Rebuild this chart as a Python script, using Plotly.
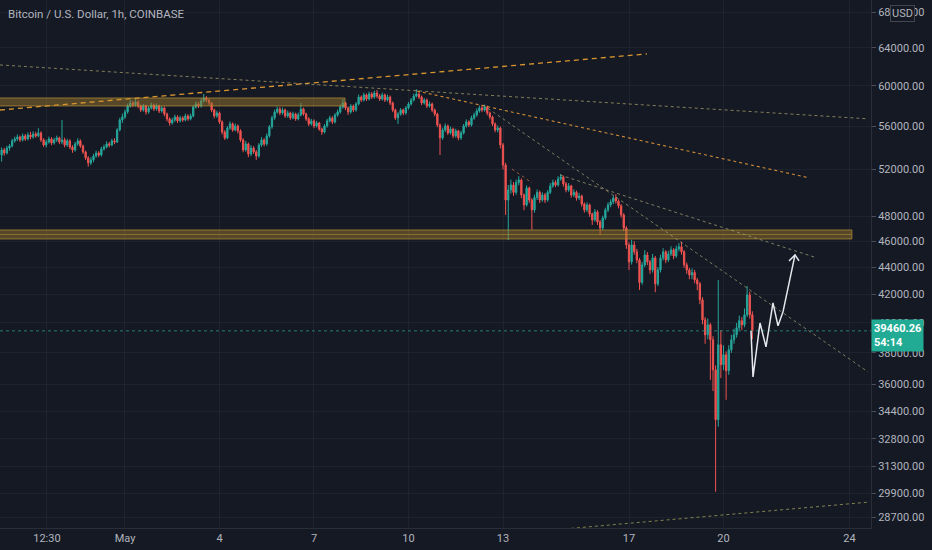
import numpy as np
import pandas as pd
import plotly.graph_objects as go

# BTC/USD Coinbase, 2h candles (open = previous close)
debut = "2021-04-27 02:00"
open_first = 53300

closes = [
    53760, 53480, 53940, 54130, 54600, 54780, 54970, 54690, 55070, 54780, 55160,
    54970, 55250, 55070, 55350, 54690, 54220, 54500, 54780, 54410, 54690, 54880, 54500,
    54690, 54220, 54600, 54030, 53760, 54320, 54600, 54130, 53580, 53030, 52580, 52850,
    53210, 53480, 53300, 53850, 54030, 54320, 54220, 54600, 54500, 55630, 56590, 56880,
    57370, 57960, 58260, 58060, 58360, 57960, 57560, 57960, 57370, 57760, 58060, 57660,
    57960, 57460, 57760, 57170, 56690, 56300, 56590, 56880, 56500, 56790, 56590, 56980,
    56690, 56980, 57860, 58160, 57960, 58450, 58750, 58550, 58260, 57560, 56980, 57270,
    56400, 55440, 54880, 55820, 56210, 55630, 56010, 55540, 54690, 53760, 54320, 53390,
    53940, 53580, 53210, 54220, 54690, 54320, 55070, 55920, 56790, 57370, 57660, 57270,
    57560, 56980, 57270, 56790, 57170, 56690, 57070, 57660, 57170, 56690, 56210, 56500,
    56010, 56300, 55720, 55440, 56010, 56500, 56790, 56400, 57070, 57370, 57860, 58260,
    57760, 57370, 57960, 57560, 58160, 58850, 58550, 59060, 58650, 59160, 58850, 59260,
    58950, 58650, 59060, 58550, 58850, 58260, 57560, 56790, 57170, 57560, 57270, 57760,
    58160, 58550, 58950, 59160, 58850, 58260, 58550, 57960, 58160, 57560, 57170, 56110,
    54880, 55630, 56010, 55350, 55720, 55070, 55540, 54880, 55350, 56010, 56400, 56110,
    56790, 57070, 57460, 57760, 57560, 57860, 57270, 56880, 56210, 55630, 55820, 54220,
    52400, 49350, 50210, 50640, 50000, 50850, 51070, 49780, 48940, 50380, 49350, 48520,
    49560, 50000, 49350, 49780, 49350, 50000, 50550, 50850, 50640, 51160, 51330, 50730,
    50210, 50550, 49780, 50000, 49520, 49690, 49020, 48520, 48940, 48190, 47700, 48360,
    47540, 47050, 47860, 48520, 48940, 49190, 49520, 49270, 48860, 48110, 47050, 45700,
    44400, 45700, 45170, 44550, 42870, 44170, 44930, 44400, 43790, 44700, 42760, 43790,
    44700, 45170, 44550, 45010, 45320, 44850, 45400, 45560, 45170, 44170, 43790, 43420,
    43600, 43050, 42760, 41610, 40210, 39190, 39870, 38860, 36920, 33900, 38530, 37240,
    37880, 36860, 38200, 38860, 39190, 39670, 40150, 39870, 40560, 41960, 40560, 39460.26,
]

highs = [
    54000, 53950, 54150, 54300, 54800, 55000, 55200, 55100, 55300, 55250, 55400,
    55450, 55500, 55450, 55800, 55500, 54850, 54700, 55000, 54950, 54900, 55100, 55000,
    56590, 54900, 54800, 54750, 54200, 54500, 54850, 54750, 54250, 53700, 53200, 53100,
    53400, 53700, 53650, 54050, 54250, 54550, 54500, 54800, 54850, 55800, 56800, 57200,
    57600, 58200, 58550, 58450, 58650, 58500, 58100, 58150, 58100, 57950, 58300, 58200,
    58200, 58100, 57950, 57900, 57300, 56850, 56800, 57100, 57050, 57000, 56950, 57200,
    57150, 57200, 58050, 58400, 58350, 58700, 59160, 58950, 58700, 58350, 57700, 57500,
    57400, 56550, 55600, 56000, 56450, 56350, 56250, 56150, 55700, 54850, 54600, 54450,
    54200, 54100, 53750, 54400, 54950, 54850, 55300, 56100, 57000, 57600, 57900, 57850,
    57800, 57700, 57500, 57400, 57400, 57300, 57300, 58260, 57800, 57300, 56850, 56700,
    56650, 56500, 56400, 55850, 56200, 56700, 57000, 56950, 57250, 57600, 58100, 58650,
    58400, 57900, 58150, 58100, 58350, 59100, 59000, 59300, 59200, 59400, 59350, 59500,
    59570, 59150, 59300, 59200, 59100, 59000, 58400, 57700, 57350, 57750, 57700, 57950,
    58350, 58750, 59200, 59650, 59350, 59000, 58750, 58700, 58400, 58300, 57700, 57300,
    56250, 55850, 56250, 56150, 55950, 55850, 55750, 55650, 55550, 56200, 56650, 56550,
    57000, 57300, 57700, 58000, 58060, 58100, 58000, 57400, 57000, 56350, 56050, 55950,
    54400, 52600, 50640, 51100, 50900, 51100, 51400, 51200, 49900, 50600, 50500, 49500,
    49800, 50250, 50150, 50000, 49950, 50200, 50800, 51100, 51050, 51400, 51600, 51450,
    50900, 50800, 50650, 50250, 50150, 49950, 49800, 49150, 49150, 49050, 48300, 48600,
    48500, 47700, 48050, 48700, 49150, 49400, 49750, 49850, 49400, 49000, 48250, 47200,
    45900, 46100, 46000, 45400, 44700, 44400, 45300, 45150, 44550, 45000, 44850, 44000,
    44950, 45450, 45300, 45250, 45600, 45450, 45650, 45850, 45950, 45300, 44350, 43950,
    43900, 43800, 43200, 42900, 41800, 40400, 40300, 40000, 39100, 37200, 43050, 39500,
    38500, 38100, 38500, 39200, 39600, 40000, 40500, 40400, 41000, 42600, 42200, 40800,
]

lows = [
    52700, 53250, 53350, 53700, 54000, 54450, 54600, 54500, 54550, 54600, 54650,
    54750, 54800, 54900, 54950, 54500, 54050, 54000, 54350, 54200, 54250, 54500, 54300,
    54300, 54000, 54050, 53850, 53500, 53600, 54150, 53950, 53400, 52850, 52250, 52400,
    52650, 53050, 53100, 53150, 53700, 53900, 54000, 54100, 54300, 54400, 55500, 56300,
    56700, 57200, 57800, 57850, 57900, 57750, 57350, 57400, 57100, 57200, 57600, 57450,
    57500, 57250, 57300, 56950, 56450, 56050, 56150, 56400, 56300, 56350, 56400, 56450,
    56500, 56550, 56850, 57700, 57750, 57800, 58300, 58350, 58050, 57350, 56750, 56800,
    56200, 55200, 54690, 54750, 55650, 55450, 55500, 55300, 54500, 53550, 53600, 53100,
    53200, 53400, 52850, 53050, 54050, 54100, 54150, 54900, 55750, 56600, 57200, 57050,
    57100, 56800, 56800, 56600, 56650, 56500, 56550, 56950, 57000, 56500, 56000, 56050,
    55800, 55850, 55550, 55160, 55300, 55850, 56350, 56200, 56250, 56900, 57200, 57700,
    57550, 57070, 57200, 57350, 57400, 58000, 58350, 58400, 58450, 58500, 58650, 58700,
    58750, 58450, 58500, 58350, 58400, 58050, 57350, 56590, 56210, 57000, 57050, 57100,
    57600, 58000, 58400, 58800, 58650, 58050, 58100, 57750, 57800, 57350, 56950, 55900,
    53300, 54700, 55450, 55150, 55200, 54850, 54900, 54650, 54700, 55200, 55850, 55900,
    55950, 56600, 56900, 57300, 57350, 57400, 57050, 56650, 56000, 55400, 55400, 53900,
    52000, 48110, 46090, 49900, 49700, 49800, 50600, 49500, 48500, 48800, 49100, 46900,
    48300, 49350, 49100, 49200, 49100, 49200, 49850, 50400, 50450, 50500, 51000, 50500,
    50000, 50050, 49550, 49600, 49300, 49350, 48800, 48300, 48350, 47950, 47300, 47550,
    47300, 46490, 46900, 47700, 48350, 48750, 49000, 49050, 48650, 47900, 46800, 45400,
    43790, 44200, 44950, 44300, 42320, 42700, 44000, 44150, 43500, 43600, 42150, 42600,
    43600, 44500, 44300, 44400, 44850, 44600, 44700, 45200, 44950, 43950, 43500, 43100,
    43100, 42800, 42300, 41300, 39900, 38600, 38900, 36290, 35600, 29970, 33500, 36400,
    36900, 35070, 36600, 38000, 38600, 39000, 39500, 39500, 39700, 40400, 40300, 38900,
]

# axes
prix_ticks = [28700, 29900, 31300, 32800, 34400, 36000, 38000, 40000, 42000,
              44000, 46000, 48000, 52000, 56000, 60000, 64000, 68000]
date_ticks = ["2021-04-28 12:30", "2021-05-01", "2021-05-04", "2021-05-07", "2021-05-10",
              "2021-05-13", "2021-05-17", "2021-05-20", "2021-05-24"]
date_labels = ["12:30", "May", "4", "7", "10", "13", "17", "20", "24"]

# drawings : (date, price)
ligne_orange = [("2021-04-27 00:46", 57560), ("2021-05-17 13:42", 63350)]
ligne_longue = [("2021-04-27 00:46", 62170), ("2021-05-24 14:05", 56700)]
ligne_sommet = [("2021-05-10 06:29", 59460), ("2021-05-22 15:36", 51300)]
ligne_raide = [("2021-05-12 08:46", 58060), ("2021-05-24 14:05", 36790)]
ligne_milieu = [("2021-05-14 19:26", 51510), ("2021-05-22 23:14", 44700)]
ligne_courte = [("2021-05-13 06:51", 52040), ("2021-05-13 22:06", 50810)]
ligne_bas = [("2021-05-14 18:40", 28100), ("2021-05-24 15:37", 29450)]
projection = [("2021-05-20 20:57", 39460), ("2021-05-20 22:29", 36470),
              ("2021-05-21 03:49", 39990), ("2021-05-21 08:23", 38390),
              ("2021-05-21 13:42", 41390), ("2021-05-21 17:31", 39800),
              ("2021-05-21 21:20", 40760), ("2021-05-22 06:29", 44930)]
fleche = [("2021-05-22 01:54", 44470), ("2021-05-22 06:29", 44930), ("2021-05-22 09:32", 44470)]
zone_haute = ("2021-04-26 20:00", "2021-05-07 23:37", 57960, 58760)
zone_basse = ("2021-04-26 20:00", "2021-05-24 01:50", 46170, 46890)

x_range = ["2021-04-27 00:46", "2021-05-24 16:23"]
y_range = [28170, 69470]

temps = pd.date_range(debut, periods=len(closes), freq="2h")
opens = [open_first] + closes[:-1]
dernier = closes[-1]

fond = "#151924"
texte = "#b2b5be"
grille = "#1f2330"

fig = go.Figure()

# zones horizontales
for x0, x1, bas, haut in [zone_haute, zone_basse]:
    fig.add_trace(go.Scatter(x=[x0, x1, x1, x0, x0], y=[bas, bas, haut, haut, bas],
                             mode="lines", fill="toself", fillcolor="rgba(150,118,42,0.5)",
                             line=dict(color="rgba(205,160,58,0.6)", width=1),
                             hoverinfo="skip", showlegend=False))
fig.add_trace(go.Scatter(x=[zone_basse[0], zone_basse[1]],
                         y=[(zone_basse[2] * zone_basse[3]) ** 0.5] * 2, mode="lines",
                         line=dict(color="rgba(205,160,58,0.45)", width=1),
                         hoverinfo="skip", showlegend=False))

# ligne du dernier prix
fig.add_trace(go.Scatter(x=x_range, y=[dernier, dernier], mode="lines",
                         line=dict(color="rgba(38,166,154,0.7)", width=1, dash="dot"),
                         hoverinfo="skip", showlegend=False))

fig.add_trace(go.Candlestick(
    x=temps, open=opens, high=highs, low=lows, close=closes,
    increasing=dict(line=dict(color="#26a69a", width=1), fillcolor="#26a69a"),
    decreasing=dict(line=dict(color="#ef5350", width=1), fillcolor="#ef5350"),
    whiskerwidth=0, showlegend=False, name="BTCUSD"))


def trait(points, couleur, largeur=1, style="dot"):
    fig.add_trace(go.Scatter(x=[p[0] for p in points], y=[p[1] for p in points],
                             mode="lines", line=dict(color=couleur, width=largeur, dash=style),
                             hoverinfo="skip", showlegend=False))


trait(ligne_orange, "#d9962f", 1.3, "5px,4px")
trait(ligne_longue, "rgba(180,168,110,0.7)")
trait(ligne_sommet, "#cf8c38", 1.1)
trait(ligne_raide, "rgba(170,165,120,0.7)")
trait(ligne_milieu, "rgba(170,165,120,0.7)")
trait(ligne_courte, "rgba(200,110,70,0.75)")
trait(ligne_bas, "rgba(165,165,90,0.75)")
trait(projection, "#e6e8ee", 1.5, "solid")
trait(fleche, "#e6e8ee", 1.5, "solid")

fig.update_layout(
    width=932, height=550,
    margin=dict(l=0, r=61, t=0, b=22),
    paper_bgcolor=fond, plot_bgcolor=fond,
    font=dict(family="Roboto, sans-serif", size=11, color=texte),
    xaxis=dict(type="date", range=x_range, rangeslider=dict(visible=False),
               tickmode="array", tickvals=date_ticks, ticktext=date_labels,
               showgrid=True, gridcolor=grille, gridwidth=1, zeroline=False,
               showline=True, linecolor="#2a2e39", ticks="", tickfont=dict(size=11, color=texte)),
    yaxis=dict(type="log", side="right", range=[np.log10(y_range[0]), np.log10(y_range[1])],
               tickmode="array", tickvals=prix_ticks, ticktext=["%.2f" % v for v in prix_ticks],
               showgrid=True, gridcolor=grille, gridwidth=1, zeroline=False,
               showline=True, linecolor="#2a2e39", ticks="outside", ticklen=4,
               tickcolor="#4a4e5a", tickfont=dict(size=11, color=texte)),
    hovermode=False,
    annotations=[
        dict(text="Bitcoin / U.S. Dollar, 1h, COINBASE", xref="paper", yref="paper",
             x=0, y=1, xanchor="left", yanchor="top", xshift=6, yshift=-5,
             showarrow=False, font=dict(size=11.5, color=texte)),
        dict(text="USD", xref="paper", yref="paper", x=1, y=1, xanchor="left", yanchor="top",
             xshift=19, yshift=-5, showarrow=False, bgcolor=fond, bordercolor="#434651",
             borderwidth=1, borderpad=1, font=dict(size=11, color=texte)),
        dict(text="<b>%.2f</b><br><b>54:14</b>" % dernier, xref="paper", yref="y",
             x=1, y=np.log10(dernier), xanchor="left", yanchor="middle", yshift=-5,
             align="left", showarrow=False, bgcolor="#22ab94", borderpad=2,
             font=dict(size=11, color="#ffffff")),
    ],
)

# page sans marge pour que la figure tienne dans la fenetre
fig.write_html("out.html", config={"displayModeBar": False},
               post_script="document.body.style.margin='0';")
